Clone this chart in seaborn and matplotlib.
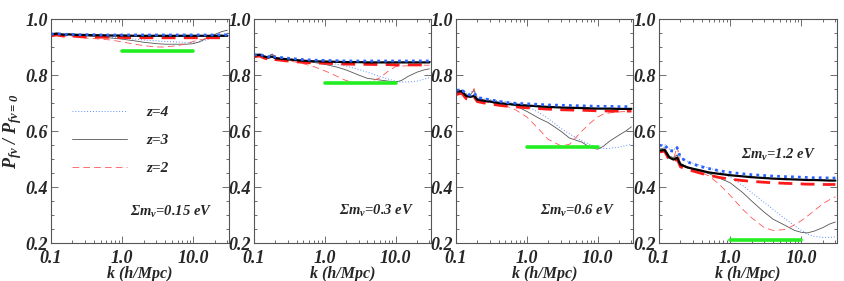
import numpy as np
import pandas as pd
import matplotlib
matplotlib.use("Agg")
import matplotlib.pyplot as plt
import seaborn as sns
from matplotlib.lines import Line2D
from matplotlib.ticker import FixedLocator, MultipleLocator, LogLocator, NullFormatter

sns.set_theme(style="white")
plt.rcParams['font.family'] = ['Liberation Serif', 'DejaVu Serif']
plt.rcParams['mathtext.fontset'] = 'custom'
plt.rcParams['mathtext.rm'] = 'Liberation Serif:bold:italic'
plt.rcParams['mathtext.it'] = 'Liberation Serif:bold:italic'
plt.rcParams['mathtext.bf'] = 'Liberation Serif:bold:italic'

# ---------------- data ----------------
K = [0.10, 0.12, 0.14, 0.16, 0.18, 0.20, 0.25, 0.30, 0.40, 0.50, 0.70, 1.0,
     1.5, 2.0, 3.0, 4.0, 6.0, 8.0, 10., 12., 15., 20., 25., 30.]

panel_labels = [r'$\Sigma m_\nu$=0.15 eV', r'$\Sigma m_\nu$=0.3 eV',
                r'$\Sigma m_\nu$=0.6 eV', r'$\Sigma m_\nu$=1.2 eV']
green_level = [0.887, 0.772, 0.542, 0.212]

# Sigma m_nu = 0.15 eV
p1_thick_z3 = [0.945,0.948,0.945,0.944,0.945,0.944,0.943,0.943,0.942,0.942,0.941,0.941,0.940,0.940,0.940,0.940,0.940,0.940,0.940,0.940,0.940,0.940,0.940,0.940]
p1_thick_z4 = [0.946,0.948,0.946,0.945,0.946,0.945,0.944,0.944,0.944,0.943,0.943,0.943,0.943,0.943,0.943,0.943,0.943,0.943,0.943,0.943,0.943,0.943,0.943,0.943]
p1_thick_z2 = [0.940,0.943,0.940,0.938,0.942,0.939,0.937,0.936,0.935,0.935,0.934,0.934,0.933,0.933,0.933,0.933,0.933,0.933,0.933,0.933,0.933,0.933,0.933,0.933]
p1_thin_z3  = [0.945,0.947,0.944,0.943,0.946,0.943,0.942,0.940,0.938,0.936,0.932,0.928,0.922,0.917,0.912,0.910,0.910,0.910,0.912,0.918,0.930,0.945,0.955,0.960]
p1_thin_z2  = [0.942,0.946,0.940,0.938,0.945,0.938,0.935,0.932,0.930,0.928,0.925,0.918,0.910,0.905,0.900,0.900,0.905,0.912,0.920,0.925,0.930,0.935,0.940,0.940]
p1_thin_z4  = [0.946,0.948,0.945,0.944,0.946,0.944,0.943,0.942,0.940,0.938,0.935,0.932,0.928,0.925,0.922,0.920,0.918,0.916,0.915,0.918,0.925,0.935,0.945,0.950]

# Sigma m_nu = 0.3 eV
p2_thick_z3 = [0.870,0.872,0.866,0.862,0.866,0.860,0.858,0.856,0.853,0.851,0.849,0.848,0.847,0.846,0.846,0.845,0.845,0.845,0.845,0.845,0.845,0.845,0.845,0.845]
p2_thick_z4 = [0.872,0.874,0.868,0.865,0.872,0.864,0.862,0.860,0.857,0.855,0.853,0.852,0.851,0.850,0.850,0.850,0.850,0.850,0.850,0.850,0.850,0.850,0.850,0.850]
p2_thick_z2 = [0.865,0.868,0.860,0.857,0.862,0.855,0.852,0.850,0.847,0.845,0.843,0.842,0.840,0.839,0.838,0.838,0.837,0.837,0.836,0.836,0.836,0.836,0.836,0.836]
p2_thin_z3  = [0.872,0.875,0.866,0.865,0.875,0.862,0.858,0.855,0.852,0.849,0.845,0.838,0.828,0.818,0.800,0.788,0.782,0.778,0.775,0.780,0.795,0.810,0.818,0.822]
p2_thin_z2  = [0.866,0.870,0.862,0.860,0.876,0.858,0.853,0.850,0.846,0.840,0.830,0.815,0.795,0.780,0.770,0.772,0.790,0.815,0.830,0.832,0.833,0.834,0.835,0.835]
p2_thin_z4  = [0.873,0.876,0.868,0.866,0.877,0.864,0.860,0.858,0.855,0.853,0.850,0.845,0.838,0.832,0.820,0.810,0.795,0.785,0.778,0.775,0.775,0.778,0.785,0.790]

# Sigma m_nu = 0.6 eV
p3_thick_z3 = [0.740,0.742,0.725,0.722,0.725,0.712,0.708,0.705,0.700,0.697,0.694,0.691,0.688,0.686,0.684,0.683,0.682,0.681,0.680,0.680,0.680,0.679,0.679,0.679]
p3_thick_z4 = [0.745,0.748,0.732,0.728,0.735,0.720,0.715,0.712,0.706,0.702,0.699,0.697,0.695,0.693,0.692,0.691,0.690,0.689,0.688,0.688,0.688,0.687,0.687,0.687]
p3_thick_z2 = [0.730,0.735,0.715,0.712,0.722,0.705,0.700,0.697,0.692,0.689,0.686,0.683,0.680,0.678,0.676,0.675,0.674,0.673,0.672,0.672,0.671,0.671,0.671,0.671]
p3_thin_z3  = [0.742,0.745,0.728,0.730,0.745,0.715,0.710,0.708,0.703,0.698,0.690,0.670,0.645,0.630,0.600,0.575,0.560,0.540,0.535,0.545,0.565,0.585,0.600,0.615]
p3_thin_z2  = [0.735,0.740,0.720,0.722,0.752,0.712,0.705,0.700,0.695,0.690,0.675,0.650,0.605,0.570,0.548,0.552,0.600,0.630,0.650,0.660,0.665,0.668,0.670,0.670]
p3_thin_z4  = [0.748,0.750,0.735,0.735,0.750,0.720,0.716,0.713,0.708,0.705,0.700,0.690,0.665,0.645,0.610,0.590,0.565,0.550,0.540,0.537,0.538,0.542,0.548,0.552]

# Sigma m_nu = 1.2 eV
p4_thick_z3 = [0.530,0.532,0.505,0.498,0.505,0.480,0.470,0.465,0.458,0.452,0.447,0.442,0.438,0.435,0.432,0.430,0.428,0.427,0.426,0.425,0.425,0.424,0.423,0.423]
p4_thick_z4 = [0.548,0.550,0.530,0.528,0.540,0.505,0.490,0.482,0.472,0.466,0.458,0.452,0.447,0.444,0.441,0.439,0.437,0.436,0.435,0.434,0.433,0.433,0.432,0.432]
p4_thick_z2 = [0.525,0.528,0.495,0.490,0.500,0.472,0.463,0.457,0.448,0.442,0.434,0.428,0.423,0.420,0.417,0.415,0.413,0.412,0.411,0.410,0.410,0.409,0.409,0.409]
p4_thin_z3  = [0.535,0.540,0.510,0.505,0.515,0.485,0.472,0.466,0.455,0.448,0.432,0.415,0.380,0.350,0.310,0.285,0.262,0.245,0.238,0.236,0.242,0.255,0.268,0.275]
p4_thin_z2  = [0.528,0.535,0.505,0.500,0.545,0.478,0.468,0.460,0.450,0.440,0.410,0.370,0.320,0.290,0.255,0.245,0.248,0.265,0.280,0.295,0.315,0.340,0.355,0.365]
p4_thin_z4  = [0.550,0.552,0.535,0.532,0.545,0.505,0.492,0.485,0.475,0.468,0.455,0.435,0.405,0.380,0.345,0.320,0.285,0.262,0.245,0.232,0.224,0.220,0.220,0.222]

panels = [
    (p1_thick_z4, p1_thick_z3, p1_thick_z2, p1_thin_z4, p1_thin_z3, p1_thin_z2),
    (p2_thick_z4, p2_thick_z3, p2_thick_z2, p2_thin_z4, p2_thin_z3, p2_thin_z2),
    (p3_thick_z4, p3_thick_z3, p3_thick_z2, p3_thin_z4, p3_thin_z3, p3_thin_z2),
    (p4_thick_z4, p4_thick_z3, p4_thick_z2, p4_thin_z4, p4_thin_z3, p4_thin_z2),
]

# ---------------- figure ----------------
fig = plt.figure(figsize=(8.45, 2.81), dpi=100)
lefts = [51, 254, 456, 659]
widths = [178, 177, 177, 178]
top_px, bot_px = 19, 243
H = 281.0
W = 845.0

BLUE = '#2a62ff'
RED = '#ff1a1a'
THIN_BLUE = '#5f8dff'
THIN_RED = '#ff5555'
THIN_BLACK = '#555555'
GREEN = '#22ee22'
FRAME = '#555555'
fontkw = dict(fontweight='bold', fontstyle='italic')

ann_pos = [(0.675, 0.138), (0.695, 0.143), (0.685, 0.143), (0.674, 0.393)]

for i, (l, w) in enumerate(zip(lefts, widths)):
    ax = fig.add_axes([l / W, (H - bot_px) / H, w / W, (bot_px - top_px) / H])
    tk4, tk3, tk2, tn4, tn3, tn2 = panels[i]
    # thin (nonlinear) curves
    sns.lineplot(x=K, y=tn4, ax=ax, color=THIN_BLUE, lw=0.7, linestyle=(0, (1, 2)))
    sns.lineplot(x=K, y=tn3, ax=ax, color=THIN_BLACK, lw=0.6, linestyle='-')
    sns.lineplot(x=K, y=tn2, ax=ax, color=THIN_RED, lw=0.6, linestyle=(0, (8, 5)))
    # thick curves
    sns.lineplot(x=K, y=tk2, ax=ax, color=RED, lw=2.0, linestyle=(0, (5, 3)))
    sns.lineplot(x=K, y=tk3, ax=ax, color='black', lw=1.6, linestyle='-')
    sns.lineplot(x=K, y=tk4, ax=ax, color=BLUE, lw=2.0, linestyle=(0, (1, 1.5)))
    # green bar
    sns.lineplot(x=[1.0, 10.0], y=[green_level[i], green_level[i]], ax=ax,
                 color=GREEN, lw=2.6, linestyle='-')

    ax.set_xscale('log')
    ax.set_xlim(0.1, 31.6)
    ax.set_ylim(0.2, 1.0)
    ax.xaxis.set_major_locator(FixedLocator([0.1, 1.0, 10.0]))
    ax.set_xticklabels(['0.1', '1.0', '10.0'], fontsize=13, **fontkw)
    ax.xaxis.set_minor_locator(LogLocator(base=10, subs=np.arange(2, 10)))
    ax.xaxis.set_minor_formatter(NullFormatter())
    ax.yaxis.set_major_locator(FixedLocator([0.2, 0.4, 0.6, 0.8, 1.0]))
    ax.set_yticklabels(['0.2', '0.4', '0.6', '0.8', '1.0'], fontsize=13, **fontkw)
    ax.yaxis.set_minor_locator(MultipleLocator(0.05))
    ax.tick_params(which='both', direction='in', top=True, right=True,
                   bottom=True, left=True, color=FRAME, width=0.6)
    ax.tick_params(which='major', length=5)
    ax.tick_params(axis='x', which='major', pad=5)
    ax.tick_params(axis='y', which='major', pad=2)
    ax.tick_params(which='minor', length=2.5)
    for s in ax.spines.values():
        s.set_color(FRAME)
        s.set_linewidth(0.8)
        s.set_visible(True)
    ax.set_xlabel('k (h/Mpc)', fontsize=11.5, labelpad=-1, **fontkw)
    if i == 0:
        ax.set_ylabel(r'$P_{f\nu}$ / $P_{f\nu=0}$', fontsize=13, labelpad=1,
                      **fontkw)
        handles = [Line2D([], [], color=THIN_BLUE, lw=0.7, linestyle=(0, (1, 2))),
                   Line2D([], [], color=THIN_BLACK, lw=0.6, linestyle='-'),
                   Line2D([], [], color=THIN_RED, lw=0.6, linestyle=(0, (8, 5)))]
        leg = ax.legend(handles, ['z=4', 'z=3', 'z=2'], loc='upper left',
                        bbox_to_anchor=(0.118, 0.615), frameon=False,
                        handlelength=3.6, handletextpad=1.3, labelspacing=0.95,
                        borderpad=0, borderaxespad=0,
                        prop=dict(family='Liberation Serif', weight='bold',
                                  style='italic', size=11))
    else:
        ax.set_ylabel('')
    ax.text(ann_pos[i][0], ann_pos[i][1], panel_labels[i], transform=ax.transAxes,
            ha='center', va='center', fontsize=10.5, **fontkw)
    ax.set_facecolor('white')

fig.savefig('out.png', dpi=100)
